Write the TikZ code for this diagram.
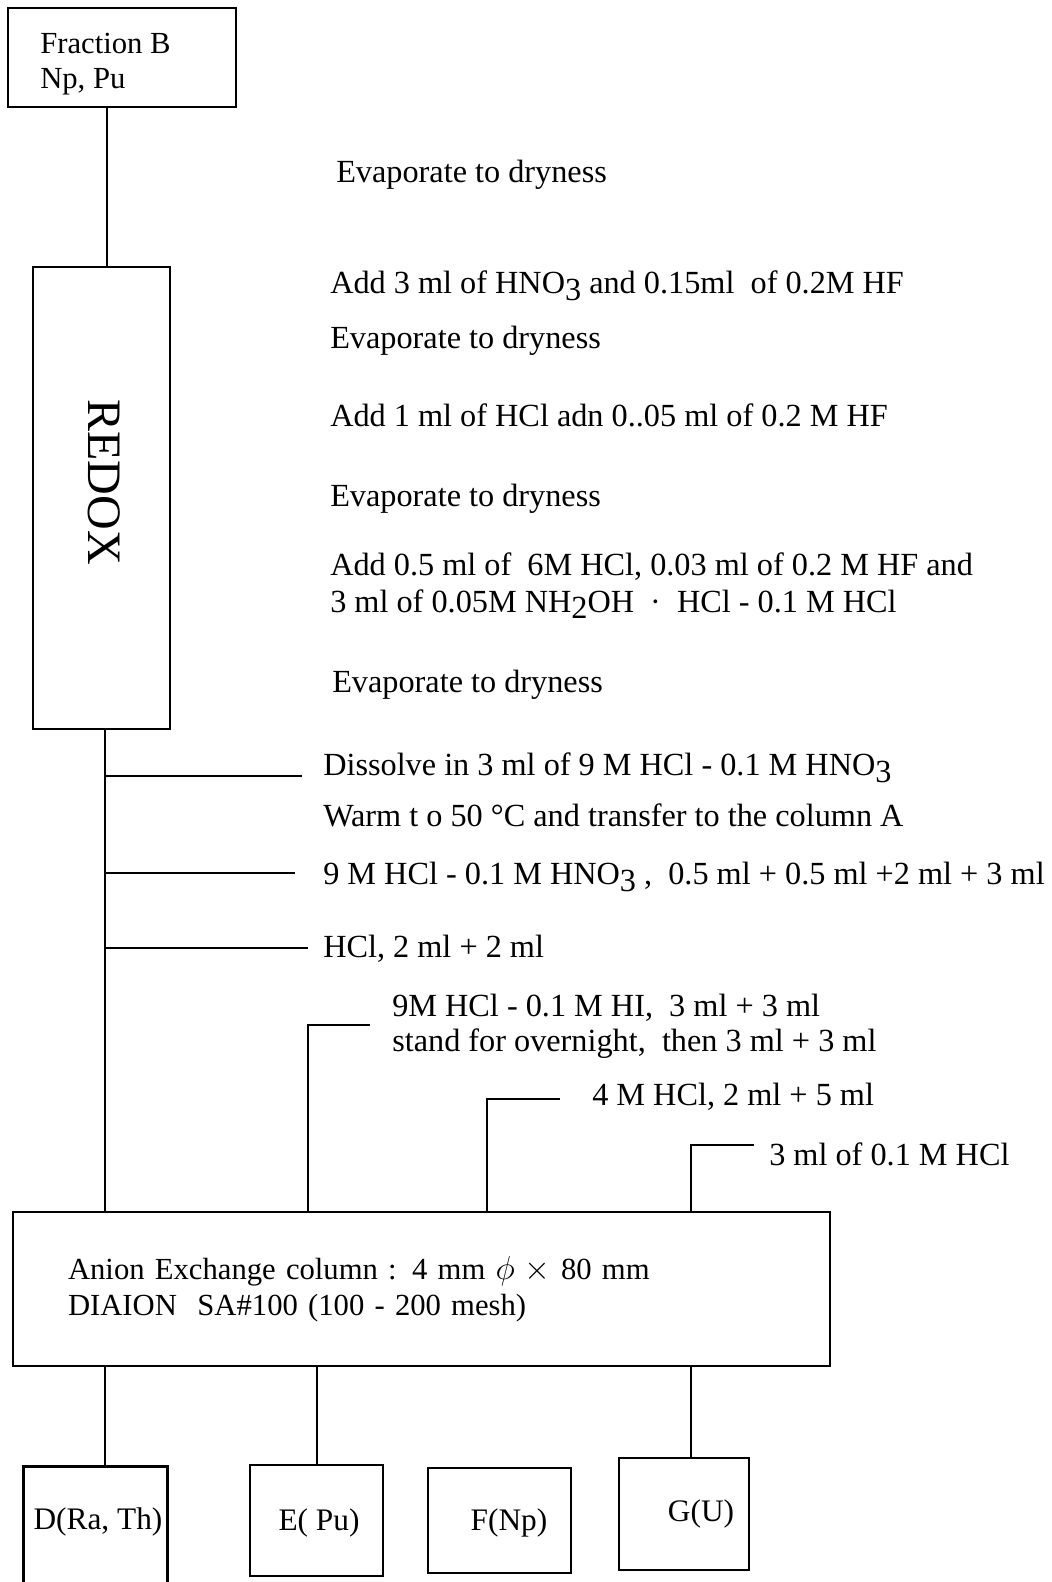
\documentclass[tikz,border=0pt]{standalone}
\usepackage{fontspec}
\setmainfont{Liberation Serif}
\usetikzlibrary{positioning,calc}
\newcommand{\chemsub}[1]{\raisebox{-0.45ex}{#1}}
\tikzset{
  box/.style    = {draw=black, line width=2pt, inner sep=0pt},
  openbox/.style= {inner sep=0pt},
  lbl/.style    = {font=\fontsize{24.2}{28}\selectfont, anchor=west, inner sep=0pt},
  lblc/.style   = {font=\fontsize{23.5}{27}\selectfont, inner sep=0pt},
  link/.style   = {draw=black, line width=1.8pt},
}

\begin{document}
\begin{tikzpicture}[x=0.75pt,y=-0.75pt]
  \useasboundingbox (0,0) rectangle (1052,1582);

  \node[box, minimum width=171pt, minimum height=74.25pt] (fracb) at (122,57.5) {};
  \node[lbl, align=left, font=\fontsize{23}{26}\selectfont] (fracbt) at (40,64) {Fraction B\\Np, Pu};
  \node[box, minimum width=102.75pt, minimum height=346.5pt] (redox) at (101.5,498) {};
  \node[lblc, rotate=-90, font=\fontsize{36}{40}\selectfont] (redoxt) at (104,482) {REDOX};
  \node[box, minimum width=612.75pt, minimum height=115.5pt, text width=530.25pt, inner xsep=41.25pt,
        align=left, font=\fontsize{23}{27}\selectfont] (anion) at (421.5,1289)
        {Anion Exchange column : 4 mm $\phi$ $\times$ 80 mm\\DIAION\ \ SA\#100 (100 - 200 mesh)};

  % fractions
  \node[openbox, minimum width=107.25pt, minimum height=93.75pt] (d) at (95.5,1529.5) {};
  \draw[link, line width=2pt] (d.south west) -- (d.north west) -- (d.north east) -- (d.south east);
  \node[box, minimum width=99.75pt, minimum height=83.25pt] (e) at (316.5,1520.5) {};
  \node[box, minimum width=107.25pt, minimum height=78.75pt] (f) at (499.5,1520.5) {};
  \node[box, minimum width=97.5pt, minimum height=84pt] (g) at (684,1514) {};
  \foreach \t/\x/\y [count=\i] in {{D(Ra, Th)}/98/1522, {E( Pu)}/319/1523, {F(Np)}/509/1523, {G(U)}/701/1514} {
    \node[lblc] (ft\i) at (\x,\y) {\t};
  }

  \foreach \t/\x/\y [count=\i] in {%
    {Evaporate to dryness}/336/175,
    {Add 3 ml of HNO\chemsub{3} and 0.15ml\ \ of 0.2M HF}/330/286,
    {Evaporate to dryness}/330/341,
    {Add 1 ml of HCl adn 0..05 ml of 0.2 M HF}/330/415,
    {Evaporate to dryness}/330/499,
    {Add 0.5 ml of\ \ 6M HCl, 0.03 ml of 0.2 M HF and}/330/567,
    {3 ml of 0.05M NH\chemsub{2}OH\ \ ·\ \ HCl - 0.1 M HCl}/330/604,
    {Evaporate to dryness}/332/685,
    {Dissolve in 3 ml of 9 M HCl - 0.1 M HNO\chemsub{3}}/323/768,
    {Warm t o 50 °C and transfer to the column A}/323/815,
    {9 M HCl - 0.1 M HNO\chemsub{3} ,\ \ 0.5 ml + 0.5 ml +2 ml + 3 ml}/323/877,
    {HCl, 2 ml + 2 ml}/323/949,
    {9M HCl - 0.1 M HI,\ \ 3 ml + 3 ml}/392/1008,
    {stand for overnight,\ \ then 3 ml + 3 ml}/392/1044,
    {4 M HCl, 2 ml + 5 ml}/592/1097,
    {3 ml of 0.1 M HCl}/769/1154}
  {
    \node[lbl] (s\i) at (\x,\y) {\t};
  }

  \coordinate (t1) at (107,0);
  \coordinate (t2) at (105,0);
  \coordinate (t3) at (317,0);
  \draw[link] (fracb.south -| t1) -- (redox.north -| t1);
  \draw[link] (redox.south -| t2) -- (anion.north -| t2);

  \foreach \y/\e [count=\i] in {776/302, 873/295, 948/308} {
    \coordinate (b\i) at (\e,\y);
    \draw[link] (b\i -| t2) -- (b\i);
  }
  \foreach \x/\y/\e [count=\i] in {308/1025/370, 487/1099/560, 691/1145/754} {
    \coordinate (k\i) at (\x,\y);
    \coordinate (e\i) at (\e,\y);
    \draw[link] (anion.north -| k\i) -- (k\i) -- (e\i);
  }

  \draw[link] (anion.south -| t2) -- (d.north -| t2);
  \draw[link] (anion.south -| t3) -- (e.north -| t3);
  \draw[link] (anion.south -| k3) -- (g.north -| k3);
\end{tikzpicture}
\end{document}
